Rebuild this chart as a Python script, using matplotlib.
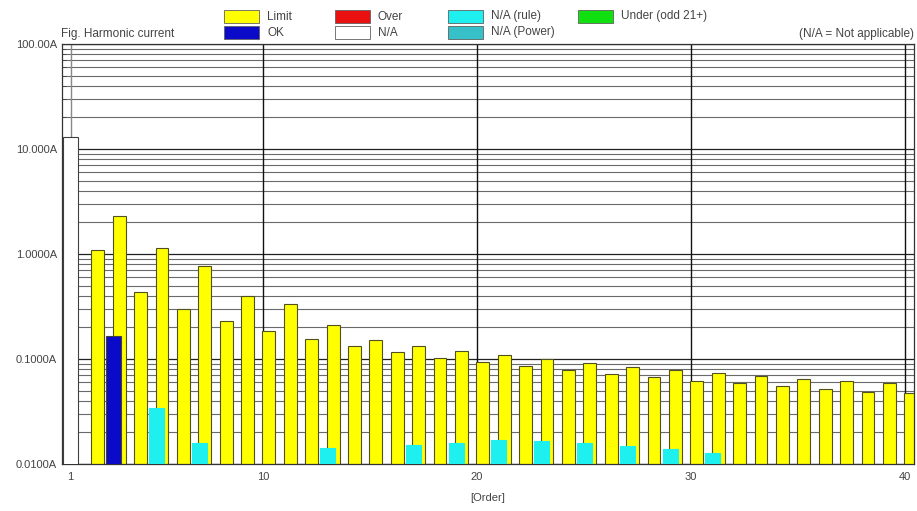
import matplotlib
matplotlib.use('Agg')
import matplotlib.pyplot as plt
from matplotlib.patches import Rectangle
from matplotlib.ticker import FixedLocator, NullFormatter

plt.rcParams['font.family'] = ['Liberation Sans', 'DejaVu Sans']

# limit per harmonic order 2..40
limit_orders = list(range(2, 41))
limit_values = [1.08, 2.30, 0.43, 1.14, 0.30, 0.77, 0.23, 0.40, 0.184, 0.33,
                0.153, 0.21, 0.131, 0.15, 0.115, 0.132, 0.102, 0.118, 0.092, 0.107,
                0.084, 0.098, 0.077, 0.090, 0.071, 0.083, 0.066, 0.078, 0.061, 0.073,
                0.058, 0.068, 0.054, 0.064, 0.051, 0.061, 0.048, 0.058, 0.046]

# measured current, only orders that show a bar
meas_orders = [1, 3, 5, 7, 13, 17, 19, 21, 23, 25, 27, 29, 31]
meas_values = [12.9, 0.165, 0.033, 0.0148, 0.0132, 0.0142, 0.0148, 0.0159,
               0.0154, 0.0148, 0.0139, 0.0130, 0.0117]
meas_status = ['N/A', 'OK', 'N/A (rule)', 'N/A (rule)', 'N/A (rule)', 'N/A (rule)',
               'N/A (rule)', 'N/A (rule)', 'N/A (rule)', 'N/A (rule)', 'N/A (rule)',
               'N/A (rule)', 'N/A (rule)']

y_ticks = [0.01, 0.1, 1, 10, 100]
y_tick_labels = ['0.0100A', '0.1000A', '1.0000A', '10.000A', '100.00A']
x_ticks = [1, 10, 20, 30, 40]

legend_names = ['Limit', 'OK', 'Over', 'N/A', 'N/A (rule)', 'N/A (Power)', 'Under (odd 21+)']
colors = {'Limit': '#ffff00', 'OK': '#0a0ac8', 'Over': '#e81010', 'N/A': '#ffffff',
          'N/A (rule)': '#1ef0f0', 'N/A (Power)': '#38c0c8', 'Under (odd 21+)': '#10e010'}

W, H = 917, 511
fig = plt.figure(figsize=(W / 100, H / 100), dpi=100)
ax = fig.add_axes([62 / W, 1 - 464 / H, (914 - 62) / W, (464 - 44) / H])

ax.set_yscale('log')
ax.set_ylim(0.01, 100)
ax.set_xlim(0.6, 40.42)

# grid
minors = [m * 10.0 ** e for e in range(-2, 2) for m in range(2, 10)]
for v in minors:
    ax.axhline(v, color='#6a6a6a', lw=0.8, zorder=0)
for v in y_ticks:
    ax.axhline(v, color='#202020', lw=0.9, zorder=0)
for v in x_ticks:
    ax.axvline(v, color='#111111' if v != 1 else '#888888', lw=1.0, zorder=0)

ax.bar([o - 0.03 for o in limit_orders], limit_values, width=0.6, align='edge',
       bottom=0.001, color=colors['Limit'], edgecolor='#505020', lw=0.8, zorder=2)
ax.bar([o - 0.33 for o in meas_orders], meas_values, width=0.7, align='edge',
       bottom=0.001, color=[colors[s] for s in meas_status],
       edgecolor=['#404040' if s in ('N/A', 'OK') else colors[s] for s in meas_status],
       lw=0.8, zorder=3)

ax.yaxis.set_major_locator(FixedLocator(y_ticks))
ax.set_yticklabels(y_tick_labels)
ax.yaxis.set_minor_formatter(NullFormatter())
ax.yaxis.set_minor_locator(FixedLocator(minors))
ax.set_xticks(x_ticks)
ax.tick_params(axis='both', which='both', labelsize=8, colors='#444444',
               length=3, width=0.6, direction='in')
ax.tick_params(axis='x', length=0, pad=6)
ax.set_xlabel('[Order]', fontsize=8, color='#444444', labelpad=8)
for s in ax.spines.values():
    s.set_color('#333333')
    s.set_linewidth(0.9)

fig.text(61 / W, 1 - 34 / H, 'Fig. Harmonic current', fontsize=8.5, color='#444444',
         ha='left', va='center')
fig.text(914 / W, 1 - 34 / H, '(N/A = Not applicable)', fontsize=8.5, color='#444444',
         ha='right', va='center')

# legend (two rows, four columns)
col_x = [224, 335, 448, 578]
row_y = [10, 26]
for i, name in enumerate(legend_names):
    cx, ry = col_x[i // 2], row_y[i % 2]
    fig.add_artist(Rectangle((cx / W, 1 - (ry + 13) / H), 35 / W, 13 / H,
                             transform=fig.transFigure, facecolor=colors[name],
                             edgecolor='#606060', lw=0.6))
    fig.text((cx + 43) / W, 1 - (ry + 6.5) / H, name, fontsize=8.5, color='#444444',
             ha='left', va='center')

fig.savefig('out.png', dpi=100)
